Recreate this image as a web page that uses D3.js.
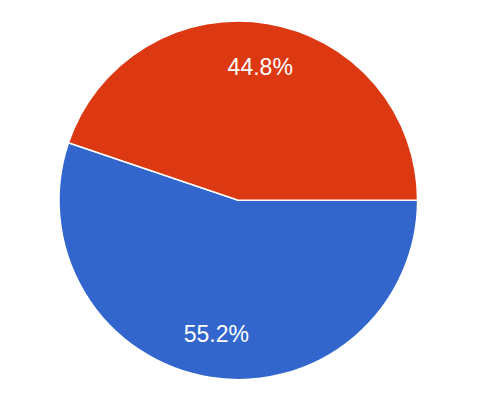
<!DOCTYPE html>
<meta charset="utf-8">
<style>
    body { margin: 0; background: white; }
    svg { display: block; }
</style>
<svg width="478" height="408"></svg>
<script src="https://cdn.jsdelivr.net/npm/d3@7"></script>
<script>
    // slice data, in drawing order (clockwise from 3 o'clock)
    var labels = ["Blue", "Red"],
        values = [55.2, 44.8],
        colors = ["#3366cc", "#dc3912"];

    var svg = d3.select("svg"),
        cx = 238.3,
        cy = 200.3,
        radius = 179.3;

    var pie = d3.pie()
        .sort(null)
        .startAngle(Math.PI / 2)
        .endAngle(Math.PI / 2 + Math.PI * 2)
        .value(function(d) { return d; });

    var arc = d3.arc()
        .innerRadius(0)
        .outerRadius(radius);

    var labelArc = d3.arc()
        .innerRadius(radius * 0.752)
        .outerRadius(radius * 0.752);

    var g = svg.append("g")
        .attr("transform", "translate(" + cx + "," + cy + ")");

    var slices = g.selectAll(".slice")
        .data(pie(values))
        .enter().append("g")
        .attr("class", "slice");

    slices.append("path")
        .attr("d", arc)
        .style("fill", function(d, i) { return colors[i]; })
        .style("stroke", "white")
        .style("stroke-width", 1.5);

    slices.append("text")
        .attr("transform", function(d) {
            var c = labelArc.centroid(d);
            return "translate(" + c[0] + "," + (c[1] + 8.2) + ")";
        })
        .attr("text-anchor", "middle")
        .style("font-family", "Arial, 'Liberation Sans', sans-serif")
        .style("font-size", "23px")
        .style("fill", "white")
        .text(function(d) {
            var total = d3.sum(values);
            return (d.value / total * 100).toFixed(1) + "%";
        });
</script>
